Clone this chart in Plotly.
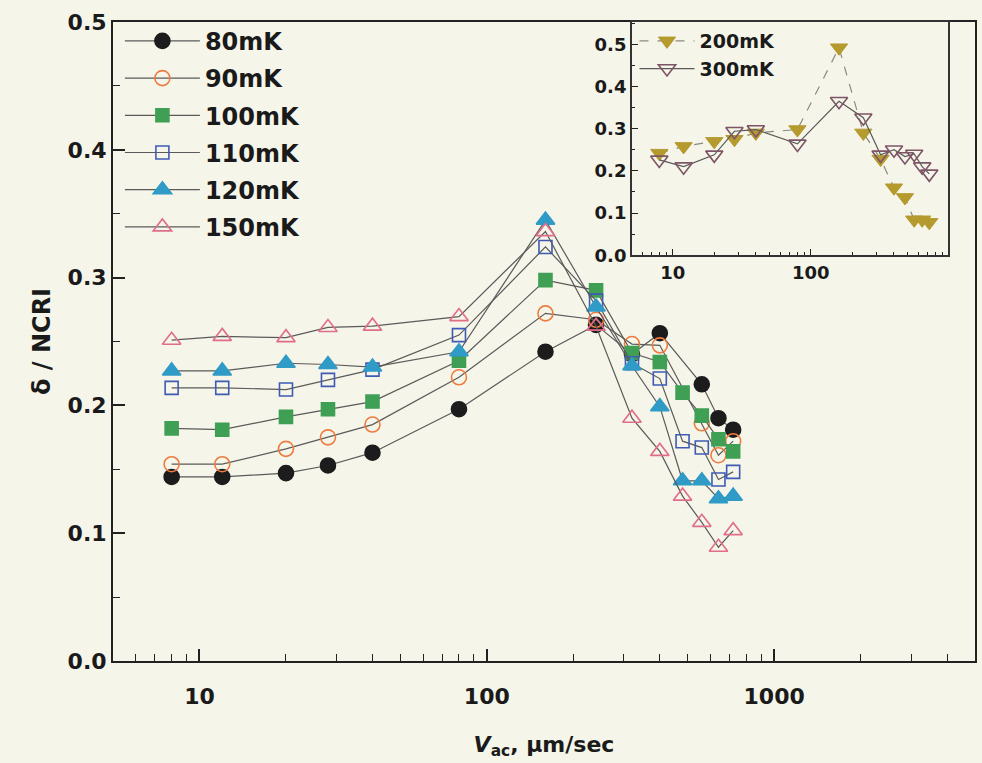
import plotly.graph_objects as go

# ---------------- data ----------------
v_low = [8, 12, 20, 28, 40, 80, 160, 240, 320, 400]

v_80 = v_low + [560, 640, 720]
d_80 = [0.144, 0.144, 0.147, 0.153, 0.163, 0.197, 0.242, 0.263, 0.240, 0.2565, 0.2165, 0.190, 0.181]

v_90 = v_low + [560, 640, 720]
d_90 = [0.154, 0.154, 0.166, 0.175, 0.185, 0.222, 0.272, 0.267, 0.248, 0.247, 0.186, 0.161, 0.172]

v_100 = v_low + [480, 560, 640, 720]
d_100 = [0.182, 0.181, 0.191, 0.197, 0.203, 0.235, 0.298, 0.290, 0.241, 0.234, 0.210, 0.192, 0.1735, 0.164]

v_110 = v_low + [480, 560, 640, 720]
d_110 = [0.2137, 0.2137, 0.2124, 0.220, 0.228, 0.255, 0.324, 0.282, 0.233, 0.221, 0.172, 0.167, 0.142, 0.148]

v_120 = v_low + [480, 560, 640, 720]
d_120 = [0.227, 0.227, 0.233, 0.232, 0.230, 0.242, 0.345, 0.277, 0.231, 0.199, 0.141, 0.141, 0.127, 0.129]

v_150 = v_low + [480, 560, 640, 720]
d_150 = [0.251, 0.254, 0.253, 0.261, 0.262, 0.2695, 0.336, 0.262, 0.190, 0.164, 0.129, 0.1085, 0.089, 0.102]

v_ins = [8, 12, 20, 28, 40, 80, 160, 240, 320, 400, 480, 560, 640, 720]
d_200 = [0.242, 0.258, 0.270, 0.275, 0.290, 0.298, 0.492, 0.290, 0.228, 0.160, 0.137, 0.084, 0.084, 0.078]
d_300 = [0.226, 0.210, 0.238, 0.294, 0.298, 0.264, 0.365, 0.326, 0.238, 0.250, 0.234, 0.240, 0.210, 0.193]

x_ticks_main = [10, 100, 1000]
y_ticks_main = [0.0, 0.1, 0.2, 0.3, 0.4, 0.5]
y_ticks_inset = [0.0, 0.1, 0.2, 0.3, 0.4, 0.5]

# ---------------- styling ----------------
FONT = "DejaVu Sans, Liberation Sans, Arial, sans-serif"
BG = "#f5f5e9"
LINE = "#5a5a5a"
INK = "#1a1a1a"

fig = go.Figure()

main_series = [
    ("80mK", v_80, d_80, "circle", "#1c1c1c", "#1c1c1c", 15),
    ("90mK", v_90, d_90, "circle-open", "#ee7b3f", "#ee7b3f", 15),
    ("100mK", v_100, d_100, "square", "#3f9f55", "#3f9f55", 13),
    ("110mK", v_110, d_110, "square-open", "#3f5bb5", "#3f5bb5", 13),
    ("120mK", v_120, d_120, "triangle-up", "#2f9bc6", "#2f9bc6", 16),
    ("150mK", v_150, d_150, "triangle-up-open", "#e06e8a", "#e06e8a", 16),
]

for i, (name, xs, ys, sym, fc, lc, sz) in enumerate(main_series):
    fig.add_trace(go.Scatter(
        x=xs, y=ys, name=name, mode="lines+markers",
        line=dict(color=LINE, width=1.2),
        marker=dict(symbol=sym, size=sz, color=fc, line=dict(color=lc, width=1.6)),
        legendgroup="g%d" % i, legend="legend",
        xaxis="x", yaxis="y",
    ))

fig.add_trace(go.Scatter(
    x=v_ins, y=d_200, name="200mK", mode="lines+markers",
    line=dict(color="#8a8a80", width=1.2, dash="dash"),
    marker=dict(symbol="triangle-down", size=15, color="#b59a2e", line=dict(color="#b59a2e", width=1)),
    legendgroup="h0", legend="legend2", xaxis="x2", yaxis="y2",
))
fig.add_trace(go.Scatter(
    x=v_ins, y=d_300, name="300mK", mode="lines+markers",
    line=dict(color=LINE, width=1.2),
    marker=dict(symbol="triangle-down-open", size=15, color="#7d5566", line=dict(color="#7d5566", width=1.6)),
    legendgroup="h1", legend="legend2", xaxis="x2", yaxis="y2",
))

axis_font = dict(family=FONT, size=22, color=INK, weight="bold")
inset_font = dict(family=FONT, size=18, color=INK, weight="bold")

fig.update_layout(
    width=982, height=763,
    margin=dict(l=113, r=5, t=22, b=102),
    paper_bgcolor=BG, plot_bgcolor=BG,
    showlegend=True,
    xaxis=dict(
        type="log", range=[0.699, 3.699], domain=[0, 1],
        tickmode="array", tickvals=x_ticks_main, ticktext=[str(v) for v in x_ticks_main],
        ticks="inside", ticklen=12, tickwidth=1.5, tickcolor="#222",
        ticklabelstandoff=15,
        minor=dict(ticks="inside", ticklen=7, tickwidth=1.3, tickcolor="#222",
                   tickvals=[6, 7, 8, 9, 20, 30, 40, 50, 60, 70, 80, 90,
                             200, 300, 400, 500, 600, 700, 800, 900, 2000, 3000, 4000]),
        showline=True, linecolor="#222", linewidth=2, mirror=True,
        showgrid=False, zeroline=False,
        tickfont=axis_font,
        title=dict(text="<i>V</i><sub>ac</sub>, µm/sec", font=dict(family=FONT, size=22, color=INK, weight="bold"), standoff=28),
    ),
    yaxis=dict(
        range=[0, 0.5], domain=[0, 1],
        tickmode="array", tickvals=y_ticks_main, ticktext=["%.1f" % v for v in y_ticks_main],
        ticks="inside", ticklen=12, tickwidth=1.5, tickcolor="#222",
        minor=dict(ticks="inside", ticklen=7, tickwidth=1.3, tickcolor="#222", dtick=0.05, tick0=0),
        showline=True, linecolor="#222", linewidth=2, mirror=True,
        showgrid=False, zeroline=False,
        tickfont=axis_font,
        title=dict(text="δ / NCRI", font=dict(family=FONT, size=24, color=INK, weight="bold"), standoff=10),
    ),
    xaxis2=dict(
        type="log", range=[0.705, 2.995], domain=[0.602, 0.969], anchor="y2",
        tickmode="array", tickvals=x_ticks_main, ticktext=[str(v) for v in x_ticks_main],
        ticks="inside", ticklen=6, tickwidth=1.3, tickcolor="#222",
        minor=dict(ticks="inside", ticklen=3, tickwidth=1, tickcolor="#222",
                   tickvals=[6, 7, 8, 9, 20, 30, 40, 50, 60, 70, 80, 90,
                             200, 300, 400, 500, 600, 700, 800, 900]),
        showline=True, linecolor="#333", linewidth=1.8, mirror=True,
        showgrid=False, zeroline=False, tickfont=inset_font,
    ),
    yaxis2=dict(
        range=[0, 0.553], domain=[0.635, 1.0], anchor="x2",
        tickmode="array", tickvals=y_ticks_inset, ticktext=["%.1f" % v for v in y_ticks_inset],
        ticks="inside", ticklen=6, tickwidth=1.3, tickcolor="#222",
        minor=dict(ticks="inside", ticklen=3, tickwidth=1, tickcolor="#222", dtick=0.05, tick0=0),
        showline=True, linecolor="#333", linewidth=1.8, mirror=True,
        showgrid=False, zeroline=False, tickfont=inset_font,
    ),
    legend=dict(
        x=0.008, y=1.005, xanchor="left", yanchor="top",
        bgcolor="rgba(0,0,0,0)", borderwidth=0,
        font=dict(family=FONT, size=24, color=INK, weight="bold"),
        tracegroupgap=3, itemwidth=75,
    ),
    legend2=dict(
        x=0.605, y=1.0, xanchor="left", yanchor="top",
        bgcolor="rgba(0,0,0,0)", borderwidth=0,
        font=dict(family=FONT, size=19, color=INK, weight="bold"),
        tracegroupgap=0, itemwidth=55,
    ),
)

fig.write_html("out.html")
